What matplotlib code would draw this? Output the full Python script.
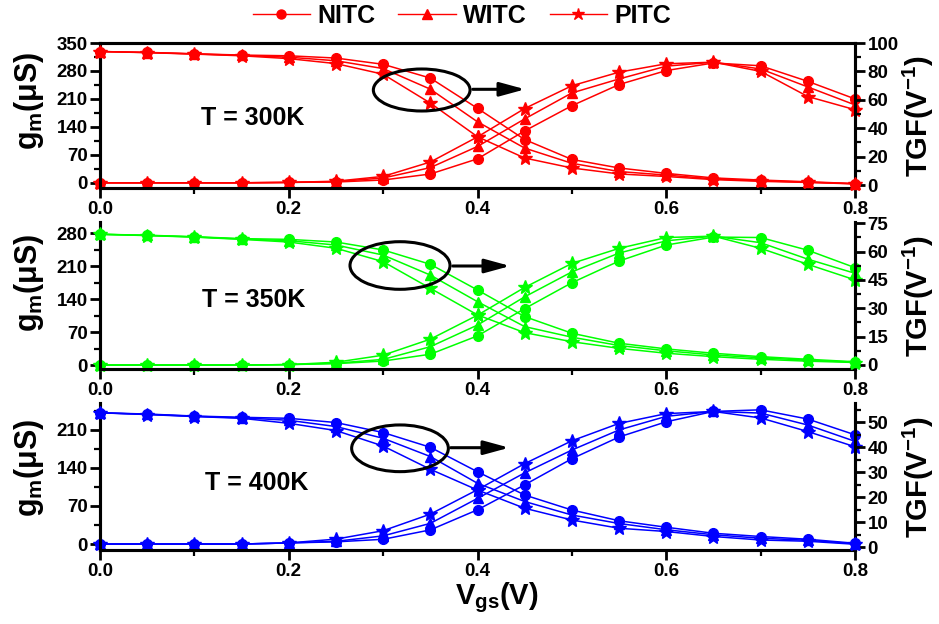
import matplotlib
matplotlib.use('Agg')
import matplotlib.pyplot as plt
from matplotlib.patches import Ellipse, FancyArrowPatch
from matplotlib.lines import Line2D
from matplotlib.ticker import MultipleLocator, FormatStrFormatter

plt.rcParams['font.family'] = ['Liberation Sans', 'DejaVu Sans']
plt.rcParams['font.weight'] = 'bold'
plt.rcParams['axes.labelweight'] = 'bold'
plt.rcParams['mathtext.fontset'] = 'custom'
plt.rcParams['mathtext.rm'] = 'Liberation Sans:bold'
plt.rcParams['mathtext.bf'] = 'Liberation Sans:bold'
plt.rcParams['mathtext.it'] = 'Liberation Sans:bold'

# ---------------- data ----------------
vgs = [0.0, 0.05, 0.1, 0.15, 0.2, 0.25, 0.3, 0.35, 0.4, 0.45, 0.5, 0.55, 0.6, 0.65, 0.7, 0.75, 0.8]
devices = ['NITC', 'WITC', 'PITC']
markers = ['o', '^', '*']
temps = ['T = 300K', 'T = 350K', 'T = 400K']
colors = ['#FF0000', '#00FF00', '#0000FF']

# T = 300K
gm_300_nitc = [0, 0, 0, 0, 1, 2, 7, 22, 60, 130, 193, 246, 281, 300, 293, 254, 210]
gm_300_witc = [0, 0, 0, 0, 1, 3, 12, 38, 91, 160, 225, 260, 292, 302, 285, 240, 195]
gm_300_pitc = [0, 0, 0, 0, 1, 4, 16, 52, 115, 186, 243, 277, 298, 302, 279, 216, 183]
tgf_300_nitc = [94, 93.4, 92.4, 91.5, 91, 89.4, 85, 75.3, 54, 32, 18, 12, 8.2, 5, 3.5, 2.3, 1]
tgf_300_witc = [94, 93.3, 92.3, 91.3, 90, 87.5, 82, 67.5, 44.5, 26, 15.3, 9.5, 7, 4.3, 3, 2, 0.9]
tgf_300_pitc = [94, 93.2, 92.2, 91, 89, 85.5, 78, 57.7, 34, 19, 12, 7.8, 6, 3.8, 2.6, 1.8, 0.8]

# T = 350K
gm_350_nitc = [0, 0, 0, 0, 1, 3, 8.5, 23, 62, 120, 175, 221, 255, 272, 271, 244, 207]
gm_350_witc = [0, 0, 0, 0, 1, 4, 12, 39, 85, 145, 198, 238, 264, 274, 260, 225, 195]
gm_350_pitc = [0, 0, 0, 0, 1, 6, 21, 55, 106, 165, 216, 248, 271, 274, 248, 214, 181]
tgf_350_nitc = [69.2, 68.7, 67.9, 66.9, 66.5, 65.1, 60.9, 53.3, 39.7, 25.6, 16.8, 11.5, 8.5, 6.2, 4.4, 3, 1.7]
tgf_350_witc = [69.2, 68.6, 67.8, 66.7, 65.8, 63.5, 58.2, 47.6, 33.5, 20.3, 14.7, 10.3, 7.5, 5.3, 3.8, 2.5, 1.5]
tgf_350_pitc = [69.2, 68.5, 67.7, 66.5, 65.1, 61.8, 54.7, 40.6, 26.5, 17.1, 12.3, 8.8, 6.2, 4.4, 3, 2, 1.3]

# T = 400K
gm_400_nitc = [0, 0, 0, 0, 2, 4, 8.7, 26, 63, 109, 157, 197, 225, 244, 247, 230, 201]
gm_400_witc = [0, 0, 0, 0, 2, 5, 15, 38, 84, 131, 173, 210, 235, 244, 241, 219, 189]
gm_400_pitc = [0, 0, 0, 0, 2, 9, 24.5, 55, 100, 148, 190, 222, 240, 244, 232, 207, 179]
tgf_400_nitc = [53.8, 53.3, 52.5, 52, 51.6, 49.9, 45.9, 40, 30.2, 20.9, 14.9, 10.6, 8, 5.6, 4.3, 3.2, 1.6]
tgf_400_witc = [53.8, 53.2, 52.4, 51.8, 50.8, 48.3, 43.6, 36.3, 25.6, 18.3, 12.9, 9.5, 7, 5, 3.6, 2.8, 1.4]
tgf_400_pitc = [53.8, 53.1, 52.3, 51.6, 49.6, 46.7, 40.5, 31.2, 22.9, 15.6, 10.9, 7.6, 6.3, 4.3, 2.9, 2.4, 1.2]

gm_ticks = [[0, 70, 140, 210, 280, 350], [0, 70, 140, 210, 280], [0, 70, 140, 210]]
tgf_ticks = [[0, 20, 40, 60, 80, 100], [0, 15, 30, 45, 60, 75], [0, 10, 20, 30, 40, 50]]

panels = [
    ([gm_300_nitc, gm_300_witc, gm_300_pitc], [tgf_300_nitc, tgf_300_witc, tgf_300_pitc]),
    ([gm_350_nitc, gm_350_witc, gm_350_pitc], [tgf_350_nitc, tgf_350_witc, tgf_350_pitc]),
    ([gm_400_nitc, gm_400_witc, gm_400_pitc], [tgf_400_nitc, tgf_400_witc, tgf_400_pitc]),
]

# ---------------- layout ----------------
W, H = 939, 624
fig = plt.figure(figsize=(W / 100, H / 100), dpi=100)

def fx(px):
    return px / W

def fy(py):
    return 1 - py / H

boxes = [(43, 188), (222, 369.3), (403.3, 550)]
left_lims = [(-13, 350), (-9, 304), (-11, 259)]
right_lims = [(-2.1, 100), (-2.3, 75.7), (-1.1, 57.6)]
gm_minor = [35, 35, 35]
tgf_minor = [10, 7.5, 5]
temp_pos = [(253, 118), (254, 300), (257, 483)]
left_label_y = [101, 283, 468]
right_label_y = [116, 296, 477]
ellipses = [(421.7, 90, 96.7, 42), (400, 265.5, 100, 47.6), (400, 448.3, 96.7, 46.7)]
arrows = [(470, 528, 89.3), (450, 513, 266), (448, 512, 447.7)]
msizes = {'o': 7, '^': 7.5, '*': 10}

for i, (gms, tgfs) in enumerate(panels):
    top, bot = boxes[i]
    ax = fig.add_axes([fx(100), fy(bot), 755 / W, (bot - top) / H])
    ax2 = ax.twinx()
    c = colors[i]
    for gm, m in zip(gms, markers):
        ax.plot(vgs, gm, color=c, lw=1.1, marker=m, ms=msizes[m], clip_on=False, zorder=3)
    for tg, m in zip(tgfs, markers):
        ax2.plot(vgs, tg, color=c, lw=1.1, marker=m, ms=msizes[m], clip_on=False, zorder=3)
    ax.set_xlim(0, 0.8)
    ax.set_ylim(*left_lims[i])
    ax2.set_ylim(*right_lims[i])
    ax.set_yticks(gm_ticks[i])
    ax2.set_yticks(tgf_ticks[i])
    ax.yaxis.set_minor_locator(MultipleLocator(gm_minor[i]))
    ax2.yaxis.set_minor_locator(MultipleLocator(tgf_minor[i]))
    ax.xaxis.set_major_locator(MultipleLocator(0.2))
    ax.xaxis.set_minor_locator(MultipleLocator(0.1))
    ax.xaxis.set_major_formatter(FormatStrFormatter('%.1f'))
    for a in (ax, ax2):
        a.tick_params(which='major', direction='out', length=7, width=2, labelsize=13.5, pad=2)
        a.tick_params(which='minor', direction='out', length=4, width=1.6)
        for s in a.spines.values():
            s.set_linewidth(2.2)
        if i > 0:
            a.spines['top'].set_visible(False)
    ax.tick_params(top=False, which='both')

    ax.set_ylabel(r'g$_\mathrm{m}$(μS)', fontsize=22, fontweight='bold')
    ax.yaxis.label.set_va('center')
    ax.yaxis.label.set_ha('center')
    ax.yaxis.set_label_coords((29 - 100) / 755, (bot - left_label_y[i]) / (bot - top))
    ax2.set_ylabel(r'TGF(V$^\mathrm{-1}$)', fontsize=21, fontweight='bold')
    ax2.yaxis.label.set_va('center')
    ax2.yaxis.label.set_ha('center')
    ax2.yaxis.set_label_coords((918 - 100) / 755, (bot - right_label_y[i]) / (bot - top))

    tx, ty = temp_pos[i]
    fig.text(fx(tx), fy(ty), temps[i], ha='center', va='center', fontsize=18)

    ex, ey, ew, eh = ellipses[i]
    fig.add_artist(Ellipse((fx(ex), fy(ey)), ew / W, eh / H, transform=fig.transFigure,
                           fill=False, lw=2.2, edgecolor='black', zorder=10))
    x1, x2, yy = arrows[i]
    fig.add_artist(FancyArrowPatch((fx(x1), fy(yy)), (fx(x2), fy(yy)), transform=fig.transFigure,
                                   arrowstyle='-|>,head_length=1.1,head_width=0.3', mutation_scale=14,
                                   lw=2.2, color='black', zorder=10))

fig.text(fx(497), fy(598), r'V$_\mathrm{gs}$(V)', ha='center', va='center', fontsize=21)

handles = [Line2D([], [], color='#FF0000', lw=1, marker=m, ms={'o': 6.5, '^': 7, '*': 9}[m]) for m in markers]
fig.legend(handles, devices, loc='center', bbox_to_anchor=(0.492, 0.975), ncol=3, frameon=False,
           fontsize=18, handlelength=2.3, columnspacing=0.9, handletextpad=0.3)

fig.savefig('out.png', dpi=100)
